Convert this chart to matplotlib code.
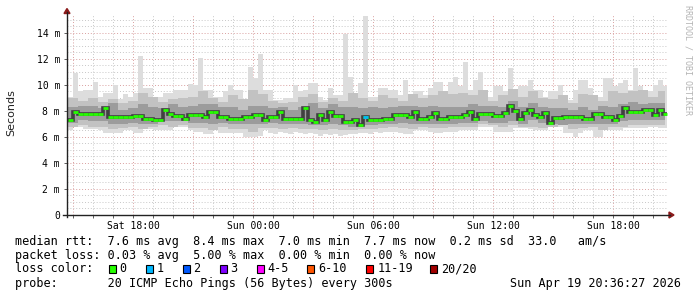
import numpy as np
import matplotlib.pyplot as plt
from matplotlib.patches import Rectangle, Polygon
from matplotlib.lines import Line2D

# round-trip time in ms, one value per 15 min starting Sat 14:45
median_ms = [7.3, 7.9, 7.8, 7.75, 7.75, 7.75, 7.75, 8.2, 7.5, 7.5,
             7.5, 7.5, 7.5, 7.6, 7.6, 7.4, 7.4, 7.3, 7.3, 8.1,
             7.8, 7.6, 7.6, 7.4, 7.7, 7.7, 7.7, 7.5, 7.9, 7.95,
             7.55, 7.5, 7.35, 7.35, 7.35, 7.55, 7.55, 7.7, 7.7, 7.3,
             7.55, 7.55, 7.9, 7.35, 7.35, 7.35, 7.35, 8.25, 7.3, 7.15,
             7.7, 7.3, 7.95, 7.65, 7.65, 7.15, 7.15, 7.3, 6.95, 7.55,
             7.3, 7.3, 7.3, 7.35, 7.35, 7.7, 7.7, 7.7, 7.55, 7.95,
             7.35, 7.35, 7.5, 7.85, 7.35, 7.35, 7.5, 7.5, 7.5, 7.7,
             7.95, 7.35, 7.75, 7.75, 7.75, 7.6, 7.6, 7.85, 8.4, 8.0,
             7.35, 7.85, 8.1, 7.7, 7.55, 7.85, 7.05, 7.45, 7.45, 7.55,
             7.55, 7.55, 7.55, 7.35, 7.35, 7.75, 7.75, 7.55, 7.55, 7.3,
             7.6, 8.25, 7.9, 7.9, 7.9, 8.1, 8.1, 7.7, 8.1, 7.75]
max_ms = [9.1, 10.9, 9.5, 9.6, 9.6, 10.2, 9.1, 9.4, 9.4, 10.0,
          8.9, 9.3, 9.1, 9.4, 12.2, 9.8, 9.8, 9.1, 9.1, 9.4,
          9.4, 9.6, 9.6, 9.6, 10.1, 10.0, 12.1, 9.6, 9.6, 9.1,
          9.1, 9.5, 10.0, 9.6, 9.6, 8.85, 11.4, 10.5, 12.4, 9.6,
          9.6, 8.85, 8.85, 9.0, 9.0, 10.0, 9.5, 9.6, 10.15, 10.15,
          9.1, 8.85, 9.75, 9.2, 9.2, 13.9, 10.6, 8.6, 10.15, 15.3,
          9.1, 9.1, 9.75, 9.75, 9.6, 9.6, 9.2, 10.4, 9.1, 9.5,
          9.5, 9.2, 9.75, 10.25, 10.25, 9.35, 10.25, 10.6, 9.9, 11.8,
          9.6, 10.4, 11.0, 9.6, 9.1, 9.9, 9.9, 9.5, 11.3, 9.1,
          9.9, 9.9, 10.4, 9.6, 9.6, 9.1, 9.5, 9.5, 10.0, 8.85,
          8.85, 9.6, 10.4, 10.4, 9.75, 9.1, 9.1, 10.5, 10.5, 9.9,
          10.15, 10.4, 9.6, 11.3, 9.9, 9.5, 9.5, 10.0, 10.4, 9.9]
min_ms = [6.5, 6.8, 6.8, 6.6, 6.6, 6.6, 6.5, 6.3, 6.3, 6.3,
          6.3, 6.5, 6.5, 6.3, 6.3, 6.6, 6.6, 6.5, 6.5, 6.5,
          6.5, 6.8, 6.8, 6.8, 6.5, 6.4, 6.4, 6.2, 6.2, 6.5,
          6.3, 6.3, 6.3, 6.3, 6.3, 6.0, 6.0, 6.0, 6.1, 6.5,
          6.3, 6.2, 6.4, 6.3, 6.2, 6.4, 6.3, 6.2, 6.3, 6.2,
          6.1, 6.2, 6.15, 6.2, 6.1, 6.15, 6.2, 6.2, 6.3, 6.3,
          6.2, 6.4, 6.3, 6.4, 6.4, 6.4, 6.3, 6.2, 6.2, 6.5,
          6.5, 6.5, 6.4, 6.3, 6.3, 6.4, 6.4, 6.4, 6.5, 6.5,
          6.5, 6.5, 6.8, 6.8, 6.8, 6.4, 6.4, 6.4, 6.4, 6.7,
          6.7, 6.7, 6.6, 6.5, 6.5, 6.5, 6.8, 6.8, 6.8, 6.3,
          6.3, 6.0, 6.3, 6.5, 6.5, 6.0, 6.0, 6.5, 6.5, 6.5,
          6.5, 6.7, 6.7, 6.7, 6.7, 6.7, 6.8, 6.8, 6.7, 6.7]

# inner smoke bands, one value per 30 min
hi2_ms = [9.0, 8.8, 9.0, 8.7, 8.9, 8.6, 8.8, 9.4, 9.1, 8.7,
          8.9, 9.0, 9.1, 9.5, 9.0, 8.7, 9.2, 8.9, 9.6, 9.3,
          8.8, 8.6, 8.7, 9.1, 9.3, 8.7, 9.0, 8.8, 9.4, 9.0,
          8.8, 9.2, 9.0, 8.8, 9.3, 9.0, 9.2, 9.5, 9.3, 9.4,
          9.2, 9.6, 8.8, 9.2, 9.7, 9.1, 9.5, 9.0, 8.9, 9.2,
          8.6, 9.3, 9.2, 8.8, 9.5, 9.4, 9.5, 9.6, 9.1, 9.5]
lo2_ms = [6.8, 6.9, 6.8, 6.8, 6.6, 6.7, 6.8, 6.6, 6.8, 6.9,
          6.8, 6.9, 6.7, 6.7, 6.5, 6.8, 6.6, 6.6, 6.4, 6.7,
          6.7, 6.6, 6.7, 6.6, 6.6, 6.5, 6.6, 6.5, 6.5, 6.6,
          6.6, 6.7, 6.8, 6.7, 6.6, 6.8, 6.7, 6.7, 6.8, 6.8,
          6.8, 7.0, 6.9, 6.8, 6.9, 6.8, 6.8, 6.7, 6.8, 6.9,
          6.6, 6.7, 6.8, 6.5, 6.8, 6.8, 6.9, 6.9, 6.9, 6.9]
hi3_ms = [8.3, 8.4, 8.4, 8.2, 8.6, 8.1, 8.2, 8.5, 8.3, 8.2,
          8.5, 8.3, 8.4, 8.5, 8.5, 8.3, 8.3, 8.1, 8.4, 8.4,
          8.2, 8.3, 8.1, 8.3, 8.6, 8.2, 8.5, 8.3, 8.3, 8.2,
          8.3, 8.2, 8.3, 8.4, 8.4, 8.3, 8.4, 8.3, 8.3, 8.3,
          8.5, 8.4, 8.4, 8.3, 8.8, 8.3, 8.6, 8.3, 8.2, 8.2,
          8.1, 8.3, 8.1, 8.4, 8.3, 8.5, 8.7, 8.5, 8.6, 8.6]
lo3_ms = [7.1, 7.3, 7.2, 7.2, 7.0, 7.0, 7.1, 7.0, 7.0, 7.2,
          7.2, 7.2, 7.1, 7.1, 7.0, 7.1, 7.0, 7.0, 7.0, 7.0,
          7.1, 7.0, 7.0, 7.0, 6.9, 6.9, 7.0, 6.9, 6.8, 6.9,
          6.9, 7.0, 7.0, 7.1, 7.0, 7.0, 7.0, 7.0, 7.0, 7.1,
          7.1, 7.2, 7.1, 7.1, 7.2, 7.0, 7.3, 7.1, 7.0, 6.9,
          7.0, 7.0, 7.0, 7.0, 7.0, 7.2, 7.3, 7.3, 7.3, 7.3]

loss_steps = [59]   # step where 1 of 20 pings was lost

x_label_hours = [18, 24, 30, 36, 42]
x_labels = ['Sat 18:00', 'Sun 00:00', 'Sun 06:00', 'Sun 12:00', 'Sun 18:00']
y_ticks = [0, 2, 4, 6, 8, 10, 12, 14]
y_labels = ['0', '2 m', '4 m', '6 m', '8 m', '10 m', '12 m', '14 m']

loss_names = ['0', '1', '2', '3', '4-5', '6-10', '11-19', '20/20']
loss_colors = ['#26ff00', '#00b8ff', '#0059ff', '#7e00ff', '#ff00ff',
               '#ff5500', '#ff0000', '#a10000']

W, H = 697, 297
def fx(px):
    return px / W
def fy(py):
    return 1 - py / H

mono = 'DejaVu Sans Mono'

fig = plt.figure(figsize=(W / 100, H / 100), dpi=100)
ax = fig.add_axes([fx(67), fy(215), 601 / W, 200 / H])

t = 14.75 + 0.25 * np.arange(len(median_ms))
t_edges = np.append(t, t[-1] + 0.2)
t2 = 14.75 + 0.5 * np.arange(len(hi2_ms))
t2_edges = np.append(t2, t2[-1] + 0.35)

def ext(v):
    return np.append(v, v[-1])

# grid
minor_c, major_c = '#c8c8c8', '#d9a0a0'
for h in range(15, 45):
    ax.axvline(h, color=major_c if h % 3 == 0 else minor_c,
               ls=(0, (1, 2)), lw=0.7, zorder=0)
for v in np.arange(0.5, 15.5, 0.5):
    ax.axhline(v, color=major_c if v % 2 == 0 else minor_c,
               ls=(0, (1, 2)), lw=0.7, zorder=0)

# smoke
ax.fill_between(t_edges, ext(min_ms), ext(max_ms), step='post',
                color='#dddddd', lw=0, zorder=2)
ax.fill_between(t2_edges, ext(lo2_ms), ext(hi2_ms), step='post',
                color='#c2c2c2', lw=0, zorder=3)
ax.fill_between(t2_edges, ext(lo3_ms), ext(hi3_ms), step='post',
                color='#9c9c9c', lw=0, zorder=4)
ax.step(t_edges, ext(median_ms), where='post', color='#404040',
        lw=2.6, zorder=5, solid_joinstyle='miter', solid_capstyle='butt')

# median, coloured by loss
med = np.array(median_ms)
ax.hlines(med, t_edges[:-1], t_edges[1:], color=loss_colors[0],
          lw=2.0, zorder=6, capstyle='butt')
for k in loss_steps:
    ax.hlines(med[k], t_edges[k], t_edges[k + 1], color=loss_colors[1],
              lw=2.0, zorder=7, capstyle='butt')

ax.set_xlim(14.7, 44.75)
ax.set_ylim(0, 15.38)
ax.set_xticks(x_label_hours, x_labels)
ax.set_xticks(range(15, 45), minor=True)
ax.set_yticks(y_ticks, y_labels)
ax.tick_params(which='both', length=2, width=0.6, color='#444444')
ax.tick_params(axis='x', pad=2)
ax.tick_params(axis='y', pad=3)
for lab in ax.get_xticklabels() + ax.get_yticklabels():
    lab.set_fontfamily(mono)
    lab.set_fontsize(7)
for s in ax.spines.values():
    s.set_visible(False)
ax.set_facecolor('white')

# axes with arrows
fig.add_artist(Line2D([fx(67), fx(67)], [fy(217), fy(12)], color='#222222', lw=1))
fig.add_artist(Line2D([fx(63), fx(670)], [fy(215), fy(215)], color='#222222', lw=1))
fig.add_artist(Polygon([[fx(64), fy(13.5)], [fx(70), fy(13.5)], [fx(67), fy(8.5)]],
                       closed=True, color='#8b1a1a', transform=fig.transFigure))
fig.add_artist(Polygon([[fx(669), fy(212)], [fx(669), fy(218)], [fx(674), fy(215)]],
                       closed=True, color='#8b1a1a', transform=fig.transFigure))

fig.text(fx(11), fy(113), 'Seconds', rotation=90, ha='center', va='center',
         fontsize=8, color='#222222')
fig.text(fx(688), fy(5), 'RRDTOOL / TOBI OETIKER', rotation=270, ha='center',
         va='top', fontsize=6, family=mono, color='#b4b4b4')

# legend text
fs = 8.5
fig.text(fx(15), fy(241), 'median rtt:  7.6 ms avg  8.4 ms max  7.0 ms min  '
         '7.7 ms now  0.2 ms sd  33.0   am/s', family=mono, fontsize=fs, va='center')
fig.text(fx(15), fy(255.5), 'packet loss: 0.03 % avg  5.00 % max  0.00 % min  '
         '0.00 % now', family=mono, fontsize=fs, va='center')
fig.text(fx(15), fy(269), 'loss color:', family=mono, fontsize=fs, va='center')
fig.text(fx(15), fy(283.5), 'probe:       20 ICMP Echo Pings (56 Bytes) every 300s',
         family=mono, fontsize=fs, va='center')
fig.text(fx(681), fy(283.5), 'Sun Apr 19 20:36:27 2026', family=mono,
         fontsize=fs, va='center', ha='right')

box_x = [108.5, 146, 183, 219.5, 257, 307, 366, 430]
label_x = [119, 156.5, 193.5, 230, 267.5, 318, 377.5, 441.5]
for bx, lx, name, c in zip(box_x, label_x, loss_names, loss_colors):
    fig.add_artist(Rectangle((fx(bx), fy(273)), 7 / W, 8 / H, transform=fig.transFigure,
                             facecolor=c, edgecolor='black', lw=0.8))
    fig.text(fx(lx), fy(269), name, family=mono, fontsize=fs, va='center')

fig.savefig('out.png', dpi=100, facecolor='white')
